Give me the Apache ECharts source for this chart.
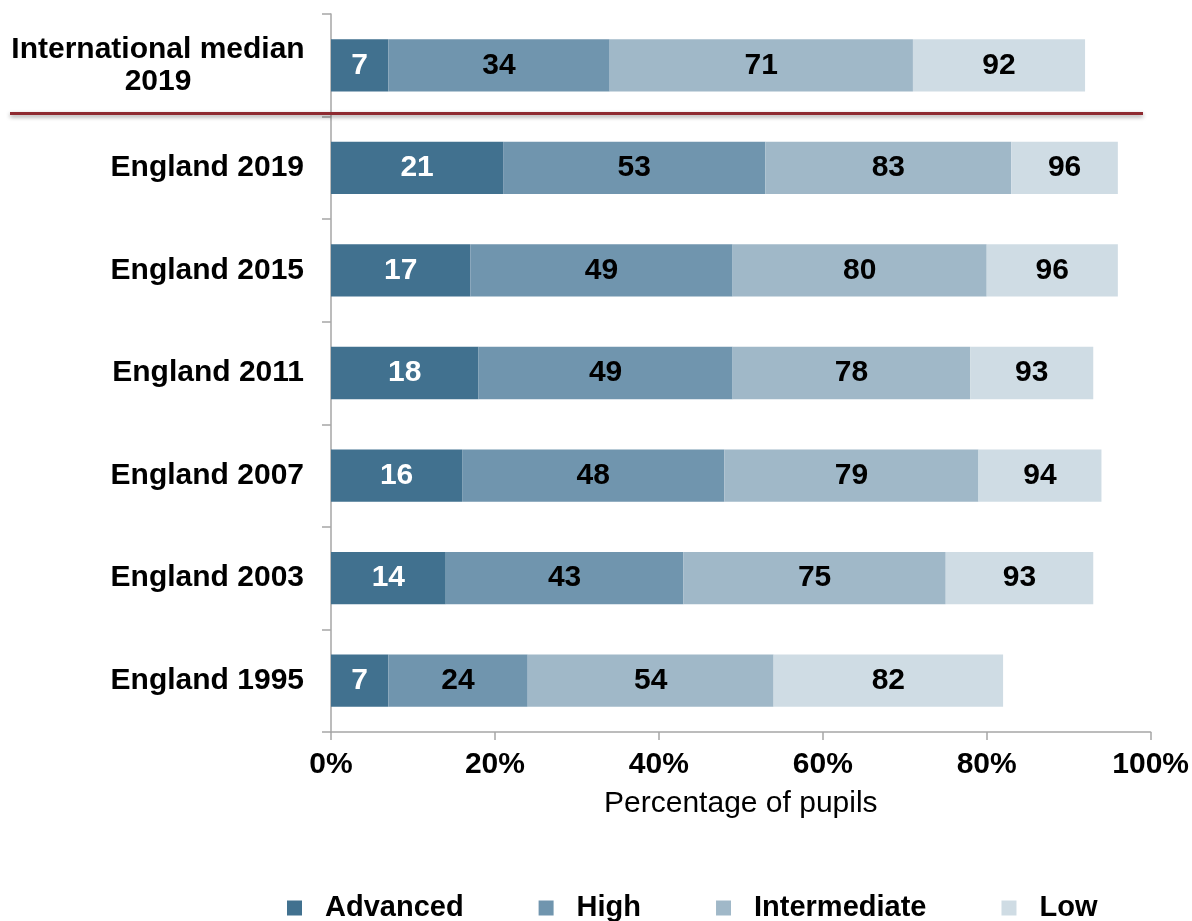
<!DOCTYPE html>
<html>
<head>
<meta charset="utf-8">
<script src="https://cdn.jsdelivr.net/npm/echarts@6/dist/echarts.min.js"></script>
<style>
html,body{margin:0;padding:0;background:#fff;}
#chart{width:1192px;height:921px;}
</style>
</head>
<body>
<div id="chart"></div>
<script>
// Categories (top to bottom)
const categories = ['International median 2019', 'England 2019', 'England 2015', 'England 2011', 'England 2007', 'England 2003', 'England 1995'];
// Cumulative percentages reaching each benchmark
const advanced     = [7, 21, 17, 18, 16, 14, 7];
const high         = [34, 53, 49, 49, 48, 43, 24];
const intermediate = [71, 83, 80, 78, 79, 75, 54];
const low          = [92, 96, 96, 93, 94, 93, 82];
const seriesNames = ['Advanced', 'High', 'Intermediate', 'Low'];
const xTicks = [0, 20, 40, 60, 80, 100];

const cumulative = [advanced, high, intermediate, low];
const colors = ['#41718f', '#7095ae', '#a0b8c8', '#cfdce4'];
const labelColors = ['#ffffff', '#000000', '#000000', '#000000'];
const FONT = "'Liberation Sans', Arial, sans-serif";

const chart = echarts.init(document.getElementById('chart'), null, {renderer: 'canvas'});

const series = cumulative.map((arr, si) => ({
  name: seriesNames[si],
  type: 'bar',
  stack: 'total',
  barWidth: '51%',
  itemStyle: {color: colors[si]},
  label: {
    show: true,
    position: 'inside',
    fontFamily: FONT,
    fontSize: 30,
    fontWeight: 'bold',
    color: labelColors[si],
    formatter: p => String(cumulative[si][p.dataIndex])
  },
  emphasis: {disabled: true},
  data: arr.map((v, i) => si === 0 ? v : v - cumulative[si - 1][i])
}));

chart.setOption({
  animation: false,
  textStyle: {fontFamily: FONT},
  grid: {left: 331, right: 40, top: 14, bottom: 189, containLabel: false},
  legend: {
    data: seriesNames,
    left: 287,
    top: 893,
    padding: 0,
    itemGap: 75,
    itemWidth: 15,
    itemHeight: 15,
    icon: 'rect',
    selectedMode: false,
    textStyle: {fontFamily: FONT, fontSize: 29, fontWeight: 'bold', color: '#000', lineHeight: 30, padding: [0, 0, 0, 18]}
  },
  xAxis: {
    type: 'value',
    min: xTicks[0],
    max: xTicks[xTicks.length - 1],
    interval: xTicks[1] - xTicks[0],
    splitLine: {show: false},
    axisLine: {show: true, lineStyle: {color: '#a6a6a6', width: 1.5}},
    axisTick: {show: true, length: 8, lineStyle: {color: '#a6a6a6', width: 1.5}},
    axisLabel: {formatter: '{value}%', fontFamily: FONT, fontSize: 30, fontWeight: 'bold', color: '#000', margin: 18},
    name: 'Percentage of pupils',
    nameLocation: 'middle',
    nameGap: 57,
    nameTextStyle: {fontFamily: FONT, fontSize: 30, color: '#000'}
  },
  yAxis: {
    type: 'category',
    inverse: true,
    data: categories,
    axisLine: {show: true, lineStyle: {color: '#a6a6a6', width: 1.5}},
    axisTick: {show: true, length: 9, alignWithLabel: false, lineStyle: {color: '#a6a6a6', width: 1.5}},
    axisLabel: {
      fontFamily: FONT, fontSize: 30, fontWeight: 'bold', color: '#000', margin: 27,
      formatter: v => v === categories[0] ? '{c|International median}\n{c|2019}' : v,
      rich: {c: {width: 292, align: 'center', fontFamily: FONT, fontSize: 30, fontWeight: 'bold', color: '#000', lineHeight: 32}}
    }
  },
  series: series
});

// Red separator between the international median and England rows
const y0 = chart.convertToPixel({yAxisIndex: 0}, categories[0]);
const y1 = chart.convertToPixel({yAxisIndex: 0}, categories[1]);
const ySep = (y0 + y1) / 2 - 3;
chart.setOption({
  graphic: [{
    type: 'line',
    shape: {x1: 10, y1: ySep, x2: 1143, y2: ySep},
    style: {stroke: '#8e2a30', lineWidth: 3, shadowBlur: 4, shadowColor: 'rgba(0,0,0,0.4)', shadowOffsetY: 2},
    z: 10
  }]
});
</script>
</body>
</html>
